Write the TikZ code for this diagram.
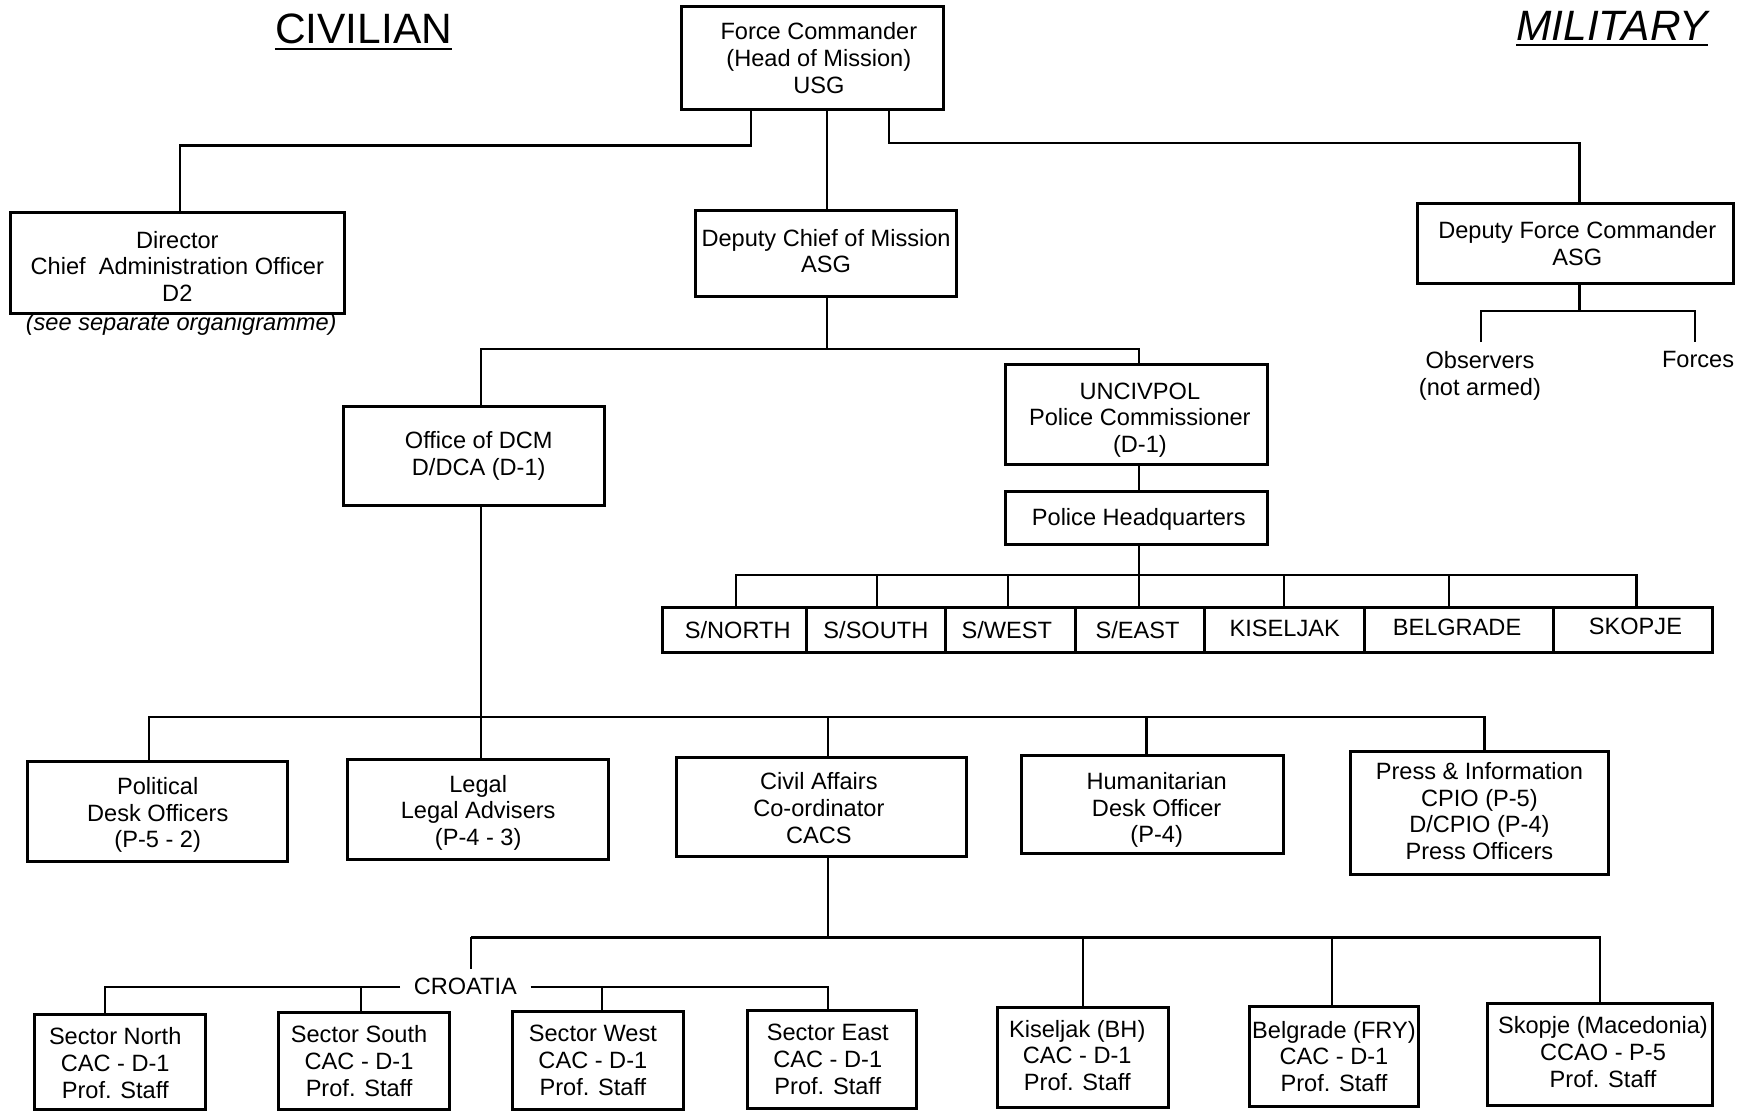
\documentclass[tikz,border=0pt]{standalone}
\usepackage{fontspec}
\setmainfont{Liberation Sans}
\newcommand\orgbox[7][0,0]{%
  \pgfmathsetmacro\obw{(#5-#3)*0.25}%
  \pgfmathsetmacro\obh{(#6-#4)*0.25}%
  \node[boxline, minimum width=\obw mm, minimum height=\obh mm] (#2) at ({(#3+#5)/2},{(#4+#6)/2}) {};
  \node[box, shift={(#1)}] (#2-t) at (#2.center) {#7};}
\begin{document}
\begin{tikzpicture}[x=0.25mm,y=-0.25mm,
  box/.style={align=center, inner sep=0pt, font=\fontsize{15}{17}\selectfont},
  boxline/.style={draw, line width=1.9pt, inner sep=0pt, outer sep=0pt},
  conn/.style={line width=1.4pt},
  lbl/.style={align=center, inner sep=0pt, font=\fontsize{15}{17}\selectfont},
  title/.style={inner sep=0pt, font=\fontsize{27}{30}\selectfont}]
\fill[white] (0,0) rectangle (1568,993);
\useasboundingbox (0,0) rectangle (1568,993);

% titles
\node[title, anchor=base] (civt) at (325,38.7) {CIVILIAN};
\draw[line width=1.4pt] ([yshift=-1.2mm]civt.base west) -- ([yshift=-1.2mm]civt.base east);
\node[title, anchor=base, font=\fontsize{27}{30}\selectfont\itshape] (milt) at (1441,36) {MILITARY};
\draw[line width=1.4pt] ([yshift=-1.1mm]milt.base west) -- ([yshift=-1.1mm]milt.base east);

% boxes
\orgbox[6,0]{fc}{609}{6}{843}{98}{Force Commander\\(Head of Mission)\\USG}
\orgbox[0,3]{dir}{9}{190}{308}{280}{Director\\Chief\ \ Administration Officer\\D2}
\node[lbl, font=\fontsize{15}{17}\selectfont\itshape] (see) at (162,290) {(see separate organigramme)};
\orgbox[0,-2]{dcm}{622}{188}{855}{265}{Deputy Chief of Mission\\ASG}
\orgbox[1.5,0]{dfc}{1267}{182}{1550}{253}{Deputy Force Commander\\ASG}
\node[lbl, inner ysep=2mm] (obs) at (1323,336) {Observers\\(not armed)};
\node[lbl, inner ysep=2mm] (forces) at (1518,321) {Forces};

\orgbox[4.5,0]{odcm}{307}{363}{540}{452}{Office of DCM\\D/DCA (D-1)}
\orgbox[3,5]{unciv}{899}{326}{1133}{415}{UNCIVPOL\\Police Commissioner\\(D-1)}
\orgbox[2,1]{phq}{899}{439}{1133}{487}{Police Headquarters}

\orgbox[3,0]{s1}{592}{543}{721}{583}{S/NORTH}
\orgbox{s2}{721}{543}{845}{583}{S/SOUTH}
\orgbox[-3,0]{s3}{845}{543}{961}{583}{S/WEST}
\orgbox[-2,0]{s4}{961}{543}{1077}{583}{S/EAST}
\orgbox[0,-1]{s5}{1077}{543}{1220}{583}{KISELJAK}
\orgbox[-2,-2]{s6}{1220}{543}{1389}{583}{BELGRADE}
\orgbox[2,-3]{s7}{1389}{543}{1531}{583}{SKOPJE}

\orgbox[0,3]{pol}{25}{681}{257}{770}{Political\\Desk Officers\\(P-5 - 2)}
\orgbox[0,3]{legal}{311}{679}{544}{768}{Legal\\Legal Advisers\\(P-4 - 3)}
\orgbox[-2.5,1]{civ}{605}{677}{864}{766}{Civil Affairs\\Co-ordinator\\CACS}
\orgbox[4,5]{hum}{913}{675}{1147}{763}{Humanitarian\\Desk Officer\\(P-4)}
\orgbox[0,-2]{press}{1207}{672}{1438}{782}{Press \& Information\\CPIO (P-5)\\D/CPIO (P-4)\\Press Officers}

\node[lbl, inner xsep=3mm, inner ysep=2mm] (cro) at (416,882) {CROATIA};
\orgbox[-4.5,1]{sn}{31}{907}{184}{992}{Sector North\\CAC - D-1\\Prof. Staff}
\orgbox[-4.5,0]{ss}{249}{905}{402}{992}{Sector South\\CAC - D-1\\Prof. Staff}
\orgbox[-4.5,0]{sw}{458}{904}{611}{992}{Sector West\\CAC - D-1\\Prof. Staff}
\orgbox[-3.5,0]{se}{668}{903}{819}{991}{Sector East\\CAC - D-1\\Prof. Staff}
\orgbox[-5.5,-2]{kis}{892}{901}{1045}{990}{Kiseljak (BH)\\CAC - D-1\\Prof. Staff}
\orgbox{bel}{1117}{900}{1268}{989}{Belgrade (FRY)\\CAC - D-1\\Prof. Staff}
\orgbox[2.5,-2]{sko}{1330}{897}{1531}{988}{Skopje (Macedonia)\\CCAO - P-5\\Prof. Staff}

% connectors: top level
\draw[conn] (fc.south -| 671,0) -- (671,130) -| (dir.north -| 161,0);
\draw[conn] (fc.south -| 739,0) -- (dcm.north -| 739,0);
\draw[conn] (fc.south -| 795,0) -- (795,128) -| (dfc.north -| 1412,0);
\draw[conn] (dfc.south -| 1412,0) -- (1412,278) coordinate (m1);
\draw[conn] (obs.north -| 1324,0) |- (m1) -| (forces.north -| 1515,0);

% deputy chief
\draw[conn] (dcm.south -| 739,0) -- (739,312) coordinate (m2);
\draw[conn] (odcm.north -| 430,0) |- (m2) -| (unciv.north -| 1018,0);
\draw[conn] (unciv.south -| 1018,0) -- (phq.north -| 1018,0);

% police sectors
\draw[conn] (phq.south -| 1018,0) -- (1018,514);
\draw[conn] (s1.north -| 658,0) -- (658,514) -- (1463,514) -- (s7.north -| 1463,0);
\draw[conn] (784,514) -- (s2.north -| 784,0);
\draw[conn] (901,514) -- (s3.north -| 901,0);
\draw[conn] (1018,514) -- (s4.north -| 1018,0);
\draw[conn] (1148,514) -- (s5.north -| 1148,0);
\draw[conn] (1295,514) -- (s6.north -| 1295,0);

% office of DCM branch
\draw[conn] (odcm.south -| 430,0) -- (legal.north -| 430,0);
\draw[conn] (pol.north -| 133,0) -- (133,641) -- (1327,641) -- (press.north -| 1327,0);
\draw[conn] (740,641) -- (civ.north -| 740,0);
\draw[conn] (1025,641) -- (hum.north -| 1025,0);

% civil affairs branch
\draw[conn] (civ.south -| 740,0) -- (740,838);
\draw[conn] (421,838) -- (1430,838) -- (sko.north -| 1430,0);
\draw[conn] (421,838) -- (cro.north -| 421,0);
\draw[conn] (968,838) -- (kis.north -| 968,0);
\draw[conn] (1191,838) -- (bel.north -| 1191,0);

% croatia
\draw[conn] (cro.west) -- (94,882) -- (sn.north -| 94,0);
\draw[conn] (cro.east) -- (740,882) -- (se.north -| 740,0);
\draw[conn] (323,882) -- (ss.north -| 323,0);
\draw[conn] (538,882) -- (sw.north -| 538,0);
\end{tikzpicture}
\end{document}
